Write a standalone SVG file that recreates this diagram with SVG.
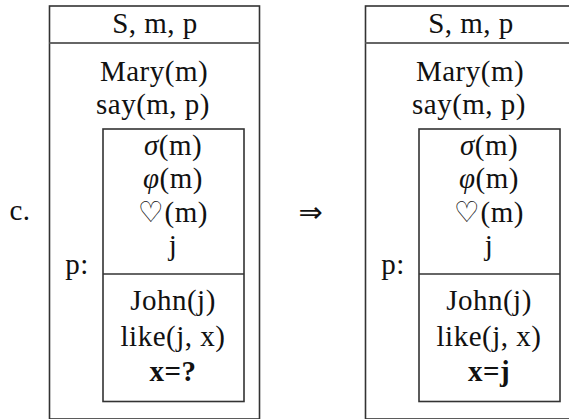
<svg xmlns="http://www.w3.org/2000/svg" width="569" height="419" viewBox="0 0 569 419">
<style>
.box{fill:none;stroke:#333;stroke-width:1.6}
.hdr{stroke:#666;stroke-width:2.2}
.t{font-family:"Liberation Serif","DejaVu Serif",serif;font-size:29px;fill:#111;text-anchor:middle;letter-spacing:0.5px}
.g{font-style:italic}
.sym{font-family:"DejaVu Sans","Liberation Serif",serif}
.b{font-weight:bold}
</style>
<rect width="569" height="419" fill="#fff"/>
<g id="label-c"><text class="t" x="20" y="220">c.</text></g>
<g id="arrow"><text class="t sym" x="311" y="222" font-size="30">⇒</text></g>
<g id="drs-left">
  <rect class="box" x="49.5" y="6" width="210" height="413"/>
  <line class="hdr" x1="49.5" y1="43" x2="259.5" y2="43"/>
  <text class="t" x="155" y="33">S, m, p</text>
  <text class="t" x="154" y="81">Mary(m)</text>
  <text class="t" x="153" y="114">say(m, p)</text>
  <text class="t" x="77" y="274">p:</text>
  <g id="inner-left">
    <rect class="box" x="103" y="129" width="141" height="272.5"/>
    <line class="box" x1="103" y1="274" x2="244" y2="274"/>
    <text class="t" x="173" y="155"><tspan class="g">σ</tspan>(m)</text>
    <text class="t" x="173" y="188"><tspan class="g">φ</tspan>(m)</text>
    <text class="t" x="173" y="222"><tspan class="sym">♡</tspan>(m)</text>
    <text class="t" x="173" y="255">j</text>
    <text class="t" x="173" y="310">John(j)</text>
    <text class="t" x="173" y="346">like(j, x)</text>
    <text class="t b" x="173" y="381">x=?</text>
  </g>
</g>
<g id="drs-right">
  <rect class="box" x="365.5" y="6" width="210" height="413"/>
  <line class="hdr" x1="365.5" y1="43" x2="575.5" y2="43"/>
  <text class="t" x="471" y="33">S, m, p</text>
  <text class="t" x="470" y="81">Mary(m)</text>
  <text class="t" x="469" y="114">say(m, p)</text>
  <text class="t" x="393" y="274">p:</text>
  <g id="inner-right">
    <rect class="box" x="419" y="129" width="141" height="272.5"/>
    <line class="box" x1="419" y1="274" x2="560" y2="274"/>
    <text class="t" x="489" y="155"><tspan class="g">σ</tspan>(m)</text>
    <text class="t" x="489" y="188"><tspan class="g">φ</tspan>(m)</text>
    <text class="t" x="489" y="222"><tspan class="sym">♡</tspan>(m)</text>
    <text class="t" x="489" y="255">j</text>
    <text class="t" x="489" y="310">John(j)</text>
    <text class="t" x="489" y="346">like(j, x)</text>
    <text class="t b" x="489" y="381">x=j</text>
  </g>
</g>
<g id="connectors"></g>
</svg>
